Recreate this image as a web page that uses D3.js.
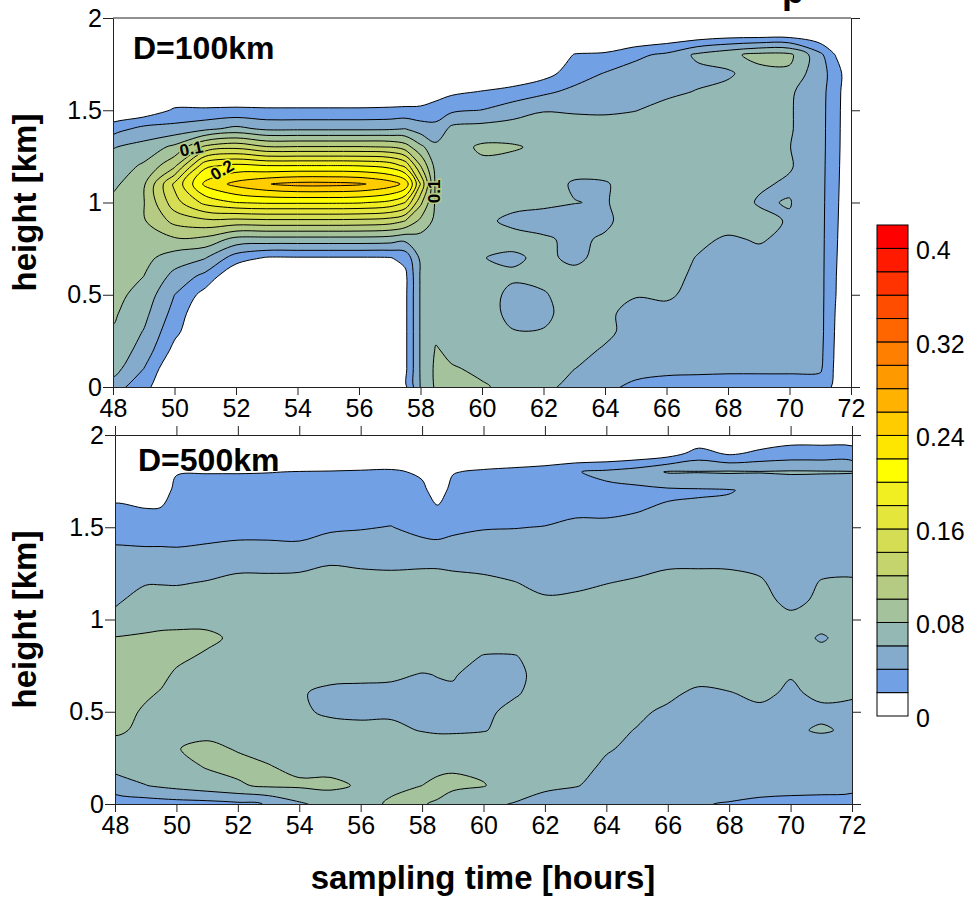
<!DOCTYPE html>
<html><head><meta charset="utf-8">
<script src="https://cdn.jsdelivr.net/npm/d3@7/dist/d3.min.js"></script>
<style>
body{margin:0;background:#fff}
text{font-family:"Liberation Sans",Arial,Helvetica,sans-serif}
</style>
</head><body>
<svg id="chart" width="970" height="898"></svg>
<script>
// ---------- DATA ----------
const levels = [0.02,0.04,0.06,0.08,0.10,0.12,0.14,0.16,0.18,0.20,0.22,0.24,0.26,0.28,0.30,0.32,0.34,0.36,0.38,0.40];
const binColors = ["#ffffff","#72a0e4","#84abcc","#94b8b4","#a4c29c","#b5cb84","#c5d46c","#d5dd54","#e4e63c","#f1ef22",
                   "#ffff00","#ffe600","#ffcc00","#ffb300","#ff9900","#ff8000","#ff6600","#ff4d00","#ff3300","#ff1a00","#ff0000"];
const colorbarTicks = [0, 0.08, 0.16, 0.24, 0.32, 0.4];
const timeTicks = [48,50,52,54,56,58,60,62,64,66,68,70,72];
const heightTicks = [0, 0.5, 1, 1.5, 2];
const heights = [0,0.1,0.2,0.3,0.4,0.5,0.6,0.7,0.8,0.9,1.0,1.1,1.2,1.3,1.4,1.5,1.6,1.7,1.8,1.9,2.0];

// D = 100 km : concentration (x0.01) ; rows = heights, columns = upperTimes
const upperTimes = [48,49,50,51,52,53,54,55,56,57,57.5,58,58.5,59,60,61,62,63,64,65,66,67,68,69,70,71,71.5,72];
const upperConc = [
 [5.0,2.6,0,0,0,0,0,0,0,0,1.5,6.1,8.3,8.5,8.15,7.6,6.4,5.5,4.5,3.5,3.2,3.0,3.0,3.0,3.0,3.0,1.6,0],
 [6.8,4.0,0,0,0,0,0,0,0,0,1.5,6.2,8.4,8.15,7.7,7.3,7.0,6.02,5.5,4.8,4.5,4.5,4.4,4.4,4.4,4.3,1.6,0],
 [7.4,5.2,1.4,0,0,0,0,0,0,0,1.5,6.2,8.15,7.6,7.3,7.0,7.1,6.6,5.8,5.0,4.9,4.8,4.8,4.8,4.8,4.5,1.7,0],
 [7.8,5.9,2.5,0,0,0,0,0,0,0,1.5,6.2,7.6,7.3,7.1,6.1,6.1,6.8,6.4,5.3,5.0,5.0,5.0,5.0,5.0,4.6,1.8,0],
 [8.3,6.6,3.3,0,0,0,0,0,0,0,1.5,6.2,7.3,7.2,7.0,5.4,5.6,6.8,6.3,5.5,5.6,5.2,5.1,5.1,5.0,4.6,1.9,0],
 [8.6,7.3,4.0,1.2,0,0,0,0,0,0,1.5,6.2,7.2,7.1,6.9,5.5,5.8,7.0,6.6,6.1,6.2,5.6,5.3,5.2,5.1,4.6,2.05,0],
 [8.8,8.0,5.4,3.4,0,0,0,0,0,0,1.5,6.2,7.2,7.1,6.6,6.3,6.6,6.6,6.8,6.9,6.7,5.6,5.4,5.3,5.2,4.6,2.1,0],
 [9.0,8.6,7.0,6.1,3.0,1.8,1.8,1.8,1.8,1.9,2.6,6.4,7.2,7.1,6.05,5.7,6.4,5.6,6.6,7.0,7.0,5.9,5.6,5.4,5.3,4.6,2.2,0],
 [9.2,9.3,9.7,9.4,7.3,7.2,7.2,7.2,7.2,7.0,6.5,7.2,7.3,7.1,6.6,6.6,6.2,5.7,6.2,7.0,7.2,6.5,5.7,6.2,5.5,4.6,2.3,0],
 [9.2,9.8,12.6,13.5,13.3,13.5,13.5,13.5,13.4,13.0,12.0,9.5,7.5,7.2,6.4,5.6,5.4,5.3,5.7,6.8,7.2,7.2,7.0,6.7,5.8,4.6,2.4,0],
 [8.6,9.9,15.2,18.6,20.0,20.3,20.3,20.3,20.2,19.5,18.0,12.5,7.6,7.3,6.9,6.5,6.3,6.05,5.85,6.9,7.2,7.3,7.2,5.8,6.1,4.6,2.5,0],
 [7.5,9.7,16.4,22.5,24.6,25.9,26.6,26.6,26.3,25.0,23.5,16.0,7.4,7.4,7.3,7.0,6.8,5.8,5.8,7.0,7.3,7.3,7.2,6.3,5.7,4.6,2.6,0],
 [6.8,8.3,11.5,19.5,20.5,20.0,20.0,20.0,19.9,19.2,17.5,12.0,7.2,7.8,7.6,7.3,7.2,6.7,7.0,7.2,7.3,7.3,7.2,7.0,6.2,4.6,2.7,0],
 [5.9,6.7,8.5,12.5,13.5,12.2,12.2,12.2,12.2,12.0,11.0,8.5,6.6,7.2,8.3,8.2,7.6,7.3,7.2,7.3,7.3,7.3,7.2,6.9,6.05,4.6,2.8,0],
 [3.1,4.6,4.7,5.5,6.5,5.6,5.6,5.6,5.6,5.7,6.0,5.0,4.3,6.5,6.8,7.0,7.0,7.2,6.6,7.0,7.0,7.1,7.1,6.9,6.2,4.6,2.85,0],
 [0,0.5,2.3,2.3,2.4,2.3,2.3,2.3,2.3,2.4,2.5,2.6,3.5,3.6,4.05,5.0,5.9,5.7,5.8,5.95,6.6,7.2,7.5,7.6,6.2,4.6,2.9,0],
 [0,0,0,0,0,0,0,0,0,0,0,0,0.5,1.6,2.1,2.8,3.6,4.5,4.9,5.4,5.6,6.1,6.8,7.3,6.3,4.6,3.0,0],
 [0,0,0,0,0,0,0,0,0,0,0,0,0,0,0,0,1.2,3.0,4.1,4.8,5.3,5.4,5.6,7.4,7.6,4.6,3.3,0],
 [0,0,0,0,0,0,0,0,0,0,0,0,0,0,0,0,0,2.1,2.3,3.6,4.4,6.4,7.5,8.6,8.5,4.5,1.9,0],
 [0,0,0,0,0,0,0,0,0,0,0,0,0,0,0,0,0,0,0,0,0.5,1.0,1.5,1.6,1.6,0.5,0,0],
 [0,0,0,0,0,0,0,0,0,0,0,0,0,0,0,0,0,0,0,0,0,0,0,0,0,0,0,0]
];

// D = 500 km : concentration (x0.01) ; rows = heights, columns = lowerTimes
const lowerTimes = [48,49,49.5,50,51,52,53,54,55,56,57,58,58.5,59,60,61,62,63,64,65,66,67,68,69,70,71,72];
const lowerConc = [
 [2.6,3.0,3.1,3.2,3.3,3.6,4.1,5.7,6.8,7.5,8.2,8.05,7.9,7.0,6.4,5.9,5.0,4.8,4.6,4.5,4.3,4.1,3.9,3.6,3.5,3.4,3.3],
 [5.3,5.95,6.3,6.6,7.2,7.8,8.3,8.3,8.4,7.8,7.7,8.0,8.3,8.4,8.1,7.0,6.5,6.1,5.4,5.0,4.9,4.8,4.7,4.7,4.6,4.6,4.5],
 [6.4,7.0,7.2,7.4,8.1,8.4,8.1,7.6,7.5,7.3,7.3,7.5,7.7,7.8,7.6,7.2,7.0,6.8,5.6,5.3,5.1,5.0,5.0,5.0,5.0,5.0,4.9],
 [7.3,7.6,7.8,7.95,8.3,7.9,7.5,7.4,7.3,7.3,7.2,7.2,7.3,7.3,7.2,7.1,7.0,6.9,6.2,5.5,5.3,5.2,5.1,5.1,5.1,5.0,5.0],
 [8.3,7.6,7.5,7.5,7.6,7.4,7.3,7.2,6.9,6.6,6.4,5.9,5.7,5.7,5.9,6.6,6.8,6.8,6.6,5.9,5.5,5.3,5.3,5.4,5.7,6.2,5.7],
 [8.6,7.8,7.5,7.3,7.1,7.0,6.9,6.4,5.6,5.5,5.7,5.5,5.4,5.4,5.6,6.5,6.9,7.0,6.9,6.4,5.6,5.4,5.8,5.6,5.9,5.6,5.4],
 [8.7,8.2,7.9,7.4,7.2,7.1,7.0,6.2,5.5,5.4,5.5,5.6,5.7,5.8,5.8,5.8,6.7,7.0,7.1,7.0,6.5,5.5,5.9,6.4,5.7,6.4,6.3],
 [8.8,8.6,8.3,7.8,7.4,7.2,7.1,6.9,6.6,6.5,6.3,5.9,6.05,6.1,5.5,5.6,6.6,7.0,7.1,7.2,7.2,6.9,6.8,6.5,6.1,6.6,6.8],
 [8.9,8.8,8.7,8.3,7.8,7.4,7.2,7.1,7.0,7.0,7.0,6.9,6.9,6.8,5.9,5.9,6.7,7.0,7.1,7.2,7.3,7.3,7.2,7.1,7.0,6.8,7.0],
 [8.1,8.3,8.4,8.4,8.3,7.7,7.4,7.3,7.2,7.2,7.2,7.1,7.1,7.1,7.0,7.0,7.1,7.2,7.3,7.4,7.4,7.4,7.3,7.2,7.0,5.75,6.9],
 [6.4,7.2,7.4,7.5,7.6,7.4,7.3,7.3,7.3,7.3,7.3,7.2,7.2,7.2,7.1,7.0,6.8,6.9,7.1,7.2,7.3,7.3,7.2,7.0,6.4,6.9,7.0],
 [5.8,6.6,6.7,6.8,7.0,7.1,7.1,7.1,7.2,7.2,7.1,7.1,7.1,7.0,6.8,6.6,6.2,6.3,6.6,6.7,6.8,6.9,6.8,6.5,5.6,6.3,6.4],
 [5.0,5.9,5.9,5.85,6.1,6.5,6.5,6.5,6.7,6.6,6.6,6.6,6.6,6.5,6.4,6.05,5.6,5.7,5.95,6.2,6.5,6.6,6.5,6.2,5.2,6.1,6.2],
 [4.7,5.0,5.1,5.1,5.2,5.5,5.5,5.6,5.95,5.8,5.7,5.8,5.8,5.7,5.5,5.3,5.2,5.2,5.3,5.5,5.8,5.8,5.8,5.6,5.0,5.5,5.5],
 [4.05,3.95,3.95,3.9,4.1,4.3,4.3,4.2,4.5,4.6,4.7,4.5,4.4,4.5,4.6,4.6,4.6,4.7,4.8,4.9,5.0,5.1,5.1,5.2,4.9,5.0,5.0],
 [3.0,2.9,2.9,3.0,3.2,3.3,3.3,3.4,3.8,3.9,4.05,3.4,3.2,3.6,3.9,3.95,4.05,4.3,4.2,4.4,4.6,4.8,4.9,5.0,5.0,5.0,5.0],
 [2.9,2.05,2.15,3.0,3.1,3.1,3.1,3.1,3.2,3.3,3.3,2.7,2.2,2.9,3.2,3.3,3.4,3.7,3.8,3.9,4.2,4.3,4.4,4.5,4.6,4.6,4.6],
 [0,0,0.5,2.8,2.9,2.9,2.9,3.0,3.0,3.1,3.0,2.4,1.2,2.5,2.9,3.0,3.2,3.6,3.6,3.6,3.7,3.8,3.9,4.4,4.8,4.8,4.8],
 [0,0,0,1.8,1.9,1.9,1.95,2.05,2.1,2.2,2.3,1.7,0,1.9,2.3,2.6,3.0,3.9,4.4,5.0,6.15,6.1,6.2,6.1,6.2,6.15,6.1],
 [0,0,0,0,0,0,0,0,0,0,0,0,0,0,0,0,0,0,0,0.4,1.0,2.8,1.7,2.4,2.8,2.8,2.7],
 [0,0,0,0,0,0,0,0,0,0,0,0,0,0,0,0,0,0,0,0,0,0,0,0.5,1.0,1.0,1.0]
];

// contour labels (text, time, height, rotation, halo colour)
const upperLabels = [["0.1",50.55,1.29,-12,"#b5cb84"],["0.2",51.55,1.175,-30,"#f1ef22"],["0.1",58.45,1.06,-90,"#b5cb84"]];

// ---------- DRAWING ----------
const svg = d3.select("#chart");
const colorFor = v => binColors[Math.round(v / 0.02)];

function drawPanel(p) {
  const x = d3.scaleLinear().domain([48, 72]).range([p.x0, p.x1]);
  const y = d3.scaleLinear().domain([0, 2]).range([p.yb, p.yt]);
  const nx = p.times.length, ny = heights.length;
  const ix = d3.scaleLinear().domain(d3.range(nx)).range(p.times);
  const iy = d3.scaleLinear().domain(d3.range(ny)).range(heights);
  const flat = [];
  for (let j = 0; j < ny; j++) for (let i = 0; i < nx; i++) flat.push(p.conc[j][i] / 100);
  const contours = d3.contours().size([nx, ny]).thresholds(levels)(flat);
  const line = d3.line().curve(d3.curveCatmullRomClosed.alpha(0.5));
  const toPath = geom => geom.coordinates.map(poly => poly.map(ring =>
      line(ring.slice(0, -1).map(([cx, cy]) => [x(ix(cx - 0.5)), y(iy(cy - 0.5))]))
    ).join("")).join("");
  const shapes = contours.filter(c => c.coordinates.length).map(c => ({v: c.value, d: toPath(c)}));

  const clipId = "clip" + p.id;
  svg.append("clipPath").attr("id", clipId).append("rect")
    .attr("x", p.x0).attr("y", p.yt).attr("width", p.x1 - p.x0).attr("height", p.yb - p.yt);
  const g = svg.append("g").attr("clip-path", `url(#${clipId})`);
  g.append("rect").attr("x", p.x0).attr("y", p.yt).attr("width", p.x1 - p.x0).attr("height", p.yb - p.yt).attr("fill", "#fff");
  g.selectAll("path.f").data(shapes).join("path").attr("class", "f")
    .attr("d", d => d.d).attr("fill", d => colorFor(d.v)).attr("stroke", "none");
  g.selectAll("path.s").data(shapes).join("path").attr("class", "s")
    .attr("d", d => d.d).attr("fill", "none").attr("stroke", "#000").attr("stroke-width", 1).attr("stroke-linejoin", "round");

  (p.labels || []).forEach(([txt, t, h, rot, halo]) => {
    svg.append("text").attr("transform", `translate(${x(t)},${y(h)}) rotate(${rot})`)
      .attr("text-anchor", "middle").attr("dominant-baseline", "central")
      .attr("font-size", 17).attr("font-weight", "bold").attr("fill", "#000")
      .attr("stroke", halo).attr("stroke-width", 3).attr("paint-order", "stroke").text(txt);
  });

  const styleAxis = sel => {
    sel.attr("font-size", 25).attr("font-family", '"Liberation Sans", Arial, sans-serif');
    sel.selectAll("path.domain").attr("stroke", "#222").attr("stroke-width", 1);
    sel.selectAll(".tick line").attr("stroke", "#222").attr("stroke-width", 1);
    sel.selectAll(".tick text").attr("fill", "#000");
  };
  svg.append("g").attr("transform", `translate(${p.x0},0)`)
    .call(d3.axisLeft(y).tickValues(heightTicks).tickSize(10).tickSizeOuter(0).tickPadding(1).tickFormat(d3.format("~g"))).call(styleAxis);
  svg.append("g").attr("transform", `translate(${p.x1},0)`)
    .call(d3.axisRight(y).tickValues(heightTicks).tickSize(9).tickSizeOuter(0).tickFormat("")).call(styleAxis);
  svg.append("g").attr("transform", `translate(0,${p.yb})`)
    .call(d3.axisBottom(x).tickValues(timeTicks).tickSize(8).tickSizeOuter(0).tickPadding(4).tickFormat(d => d)).call(styleAxis);
  if (p.topTicks) {
    svg.append("g").attr("transform", `translate(0,${p.yt})`)
      .call(d3.axisTop(x).tickValues(timeTicks).tickSize(9).tickSizeOuter(0).tickFormat("")).call(styleAxis);
  } else {
    svg.append("line").attr("x1", p.x0).attr("x2", p.x1).attr("y1", p.yt).attr("y2", p.yt).attr("stroke", "#222");
  }
  svg.append("text").attr("x", p.titleX).attr("y", p.titleY).attr("font-size", 32).attr("font-weight", "bold").text(p.title);
  svg.append("text").attr("transform", `translate(36,${(p.yt + p.yb) / 2}) rotate(-90)`)
    .attr("text-anchor", "middle").attr("font-size", 33).attr("font-weight", "bold").text("height [km]");
}

drawPanel({id: "u", times: upperTimes, conc: upperConc, x0: 113, x1: 851, yb: 387, yt: 18,
  title: "D=100km", titleX: 133, titleY: 59, topTicks: false, labels: upperLabels});
drawPanel({id: "l", times: lowerTimes, conc: lowerConc, x0: 115, x1: 852, yb: 804, yt: 435,
  title: "D=500km", titleX: 138, titleY: 471, topTicks: true});

svg.append("text").attr("x", 483).attr("y", 889).attr("text-anchor", "middle")
  .attr("font-size", 33).attr("font-weight", "bold").text("sampling time [hours]");

// colour bar
const cb = d3.scaleLinear().domain([0, 0.42]).range([716, 225]);
const cbg = svg.append("g");
cbg.selectAll("rect").data(binColors).join("rect")
  .attr("x", 877).attr("width", 31)
  .attr("y", (c, i) => cb((i + 1) * 0.02)).attr("height", (c, i) => cb(i * 0.02) - cb((i + 1) * 0.02))
  .attr("fill", c => c).attr("stroke", "#000").attr("stroke-width", 1);
cbg.selectAll("text").data(colorbarTicks).join("text")
  .attr("x", 916).attr("y", v => cb(v) + 2).attr("dominant-baseline", "central")
  .attr("font-size", 25).text(v => d3.format("~g")(v));

// clipped title fragment at the very top (cut off in the original figure too)
svg.append("text").attr("x", 782).attr("y", 3).attr("font-family", '"Liberation Serif", "Times New Roman", serif')
  .attr("font-weight", "bold").attr("font-size", 36).text("p");
</script>
</body></html>
